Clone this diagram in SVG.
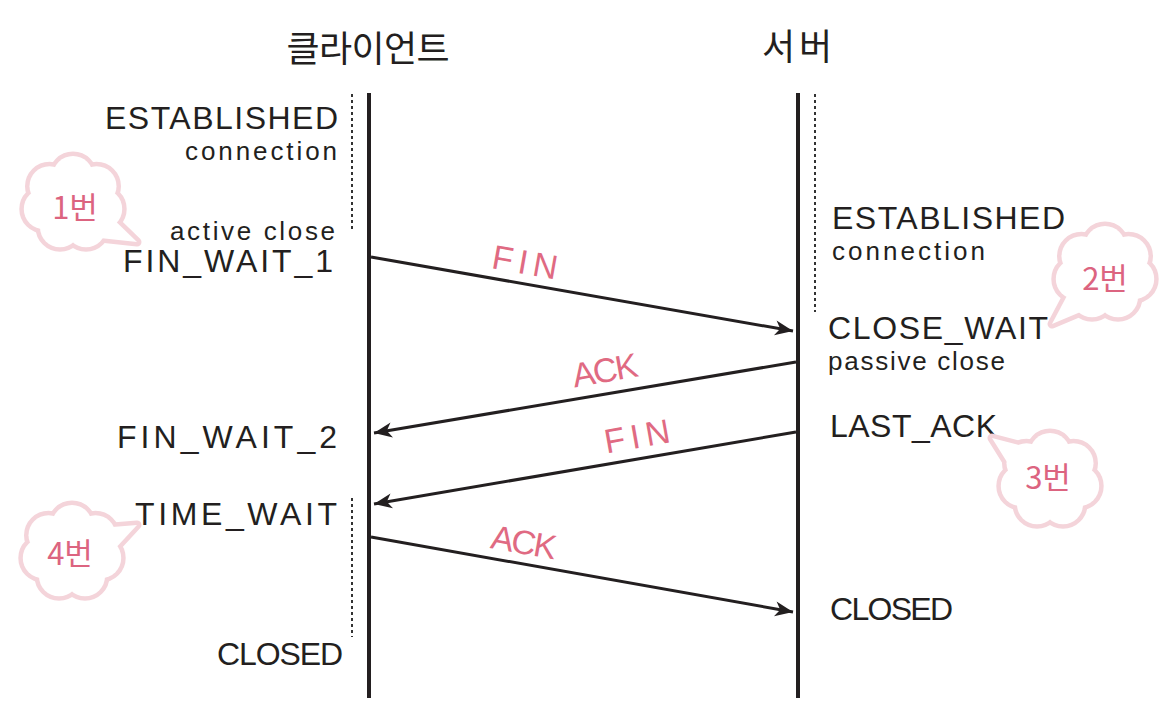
<svg xmlns="http://www.w3.org/2000/svg" xmlns:xlink="http://www.w3.org/1999/xlink" width="1160" height="722" viewBox="0 0 1160 722">
  <style>
    .lbl { font-family: "Liberation Sans", "DejaVu Sans", sans-serif; font-size: 32px; fill: #231f20; }
    .sm { font-family: "Liberation Sans", "DejaVu Sans", sans-serif; font-size: 26px; fill: #231f20; }
    .title { font-family: "Noto Sans CJK KR", "Noto Sans", sans-serif; font-size: 36px; fill: #231f20; }
    .pink { font-family: "Liberation Sans", "DejaVu Sans", sans-serif; font-size: 34px; fill: #e06a82; text-anchor: middle; }
    .num { font-family: "Noto Sans CJK KR", "Noto Sans", sans-serif; font-size: 31px; fill: #dc6480; text-anchor: middle; }
    .life { stroke: #231f20; stroke-width: 4; fill: none; }
    .dot { stroke: #333; stroke-width: 2; stroke-dasharray: 3 3; fill: none; }
    .msg { stroke: #231f20; stroke-width: 3; fill: none; marker-end: url(#ah); }
    .co { fill: #f4d4da; stroke: #f4d4da; stroke-width: 9; stroke-linejoin: round; }
    .cf { fill: #ffffff; stroke: none; }
    .end { text-anchor: end; }
  </style>
  <defs>
    <marker id="ah" markerUnits="userSpaceOnUse" markerWidth="22" markerHeight="18" refX="19" refY="8" orient="auto" overflow="visible">
      <path d="M1,0.5 L19,8 L1,15.5 L6,8 z" fill="#231f20"/>
    </marker>
    <g id="puff">
      <circle cx="0" cy="0" r="30"/>
      <circle cx="0" cy="-27" r="20"/>
      <circle cx="23.5" cy="-16.8" r="20"/>
      <circle cx="29.2" cy="6" r="20"/>
      <circle cx="13" cy="24.3" r="20"/>
      <circle cx="-13" cy="24.3" r="20"/>
      <circle cx="-29.2" cy="6" r="20"/>
      <circle cx="-23.5" cy="-16.8" r="20"/>
    </g>
  </defs>
  <rect width="1160" height="722" fill="#ffffff"/>

  <!-- titles -->
  <g id="client-title"><text class="title" x="368" y="62" text-anchor="middle" textLength="163">클라이언트</text></g>
  <g id="server-title"><text class="title" x="797" y="60" text-anchor="middle" textLength="70">서버</text></g>

  <!-- lifelines -->
  <g id="lifelines">
    <line class="life" x1="369" y1="93" x2="369" y2="698"/>
    <line class="life" x1="798" y1="93" x2="798" y2="698"/>
    <line class="dot" x1="352" y1="94" x2="352" y2="232"/>
    <line class="dot" x1="352" y1="498" x2="352" y2="637"/>
    <line class="dot" x1="815" y1="94" x2="815" y2="312"/>
  </g>

  <!-- client states -->
  <g id="client-states">
    <text class="lbl end" x="338" y="129" textLength="233">ESTABLISHED</text>
    <text class="sm end" x="337" y="160" textLength="152">connection</text>
    <text class="sm end" x="335" y="240" textLength="165">active close</text>
    <text class="lbl end" x="333" y="272" textLength="210">FIN_WAIT_1</text>
    <text class="lbl end" x="337" y="448" textLength="220">FIN_WAIT_2</text>
    <text class="lbl end" x="337" y="525" textLength="202">TIME_WAIT</text>
    <text class="lbl end" x="343" y="665" textLength="126">CLOSED</text>
  </g>

  <!-- server states -->
  <g id="server-states">
    <text class="lbl" x="832" y="229" textLength="233">ESTABLISHED</text>
    <text class="sm" x="832" y="260" textLength="153">connection</text>
    <text class="lbl" x="828" y="339" textLength="220">CLOSE_WAIT</text>
    <text class="sm" x="828" y="370" textLength="177">passive close</text>
    <text class="lbl" x="830" y="437" textLength="167">LAST_ACK</text>
    <text class="lbl" x="830" y="620" textLength="123">CLOSED</text>
  </g>

  <!-- connectors -->
  <g id="connectors">
    <path class="msg" d="M371,257 L793,331"/>
    <path class="msg" d="M796,362 L374,433"/>
    <path class="msg" d="M796,432 L374,504"/>
    <path class="msg" d="M371,537 L793,612"/>
    <text class="pink" x="525" y="274" textLength="66" transform="rotate(10 525 262)">FIN</text>
    <text class="pink" x="605" y="382" textLength="66" transform="rotate(-10 605 370)">ACK</text>
    <text class="pink" x="637" y="448" textLength="66" transform="rotate(-10 637 436)">FIN</text>
    <text class="pink" x="524" y="554" textLength="66" transform="rotate(10 524 542)">ACK</text>
  </g>

  <!-- clouds -->
  <g id="cloud1">
    <g class="co"><use xlink:href="#puff" transform="translate(73,203)"/><polygon points="105,211 137,242 100,238"/></g>
    <g class="cf"><use xlink:href="#puff" transform="translate(73,203)"/><polygon points="105,211 137,242 100,238"/></g>
    <text class="num" x="75" y="219">1번</text>
  </g>
  <g id="cloud2">
    <g class="co"><use xlink:href="#puff" transform="translate(1105,273)"/><polygon points="1070,290 1052,324 1090,308"/></g>
    <g class="cf"><use xlink:href="#puff" transform="translate(1105,273)"/><polygon points="1070,290 1052,324 1090,308"/></g>
    <text class="num" x="1105" y="290">2번</text>
  </g>
  <g id="cloud3">
    <g class="co"><use xlink:href="#puff" transform="translate(1050,480)"/><polygon points="1030,448 992,438 1012,470"/></g>
    <g class="cf"><use xlink:href="#puff" transform="translate(1050,480)"/><polygon points="1030,448 992,438 1012,470"/></g>
    <text class="num" x="1048" y="489">3번</text>
  </g>
  <g id="cloud4">
    <g class="co"><use xlink:href="#puff" transform="translate(72,552)"/><polygon points="100,528 137,525 112,552"/></g>
    <g class="cf"><use xlink:href="#puff" transform="translate(72,552)"/><polygon points="100,528 137,525 112,552"/></g>
    <text class="num" x="70" y="565">4번</text>
  </g>
</svg>
